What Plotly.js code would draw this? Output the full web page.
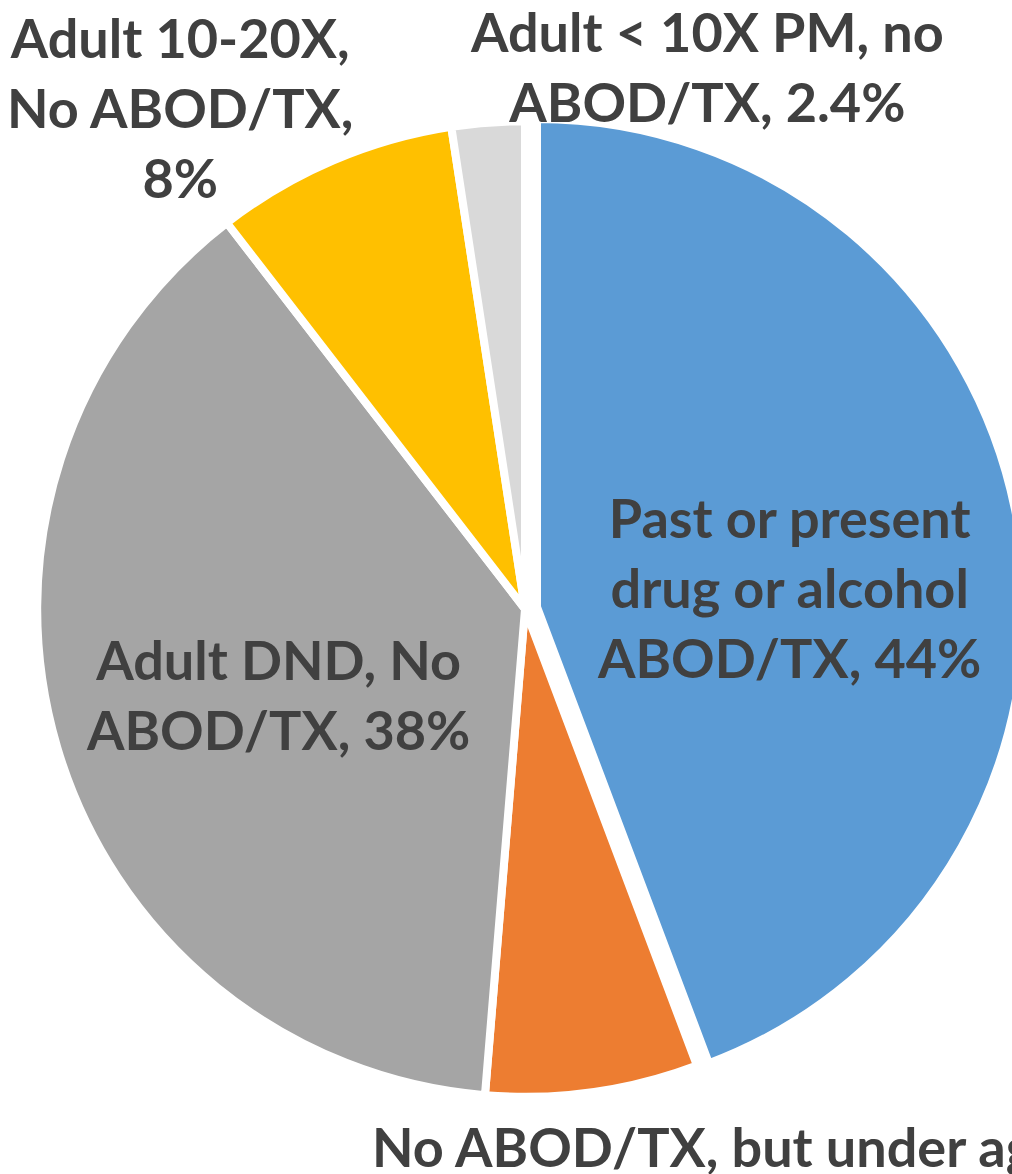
<!DOCTYPE html>
<html>
<head>
<meta charset="utf-8">
<script src="https://cdn.plot.ly/plotly-3.0.1.min.js"></script>
<style>
  html, body { margin: 0; padding: 0; overflow: hidden; background: #fff; }
  #chart { width: 1060px; height: 1174px; }
</style>
</head>
<body>
<div id="chart"></div>
<script>
// Share of cases by ABOD/TX status, clockwise from 12 o'clock
const categories = [
  'Past or present drug or alcohol ABOD/TX',
  'No ABOD/TX, but under age',
  'Adult DND, No ABOD/TX',
  'Adult 10-20X, No ABOD/TX',
  'Adult < 10X PM, no ABOD/TX'
];
const shares = [44, 7, 38, 8, 2.4];
const sliceColors = ['#5B9BD5', '#ED7D31', '#A5A5A5', '#FFC000', '#D9D9D9'];

// Wrapped label text that precedes each percentage
const labelLines = [
  'Past or present<br>drug or alcohol<br>ABOD/TX, ',
  'No ABOD/TX, but under age, ',
  'Adult DND, No<br>ABOD/TX, ',
  'Adult 10-20X,<br>No ABOD/TX,<br>',
  'Adult &lt; 10X PM, no<br>ABOD/TX, '
];

const W = 1060, H = 1174;
const px = x => x / W;
const py = y => 1 - y / H;

// label anchor points (pixels) and alignment
const labelPos = [
  {x: 789, y: 588, xa: 'center'},
  {x: 370, y: 1146, xa: 'left'},
  {x: 278, y: 694, xa: 'center'},
  {x: 180, y: 107, xa: 'center'},
  {x: 707, y: 66, xa: 'center'}
];

const labelFont = {family: 'Lato, "Open Sans", sans-serif', size: 54, color: '#404040', weight: 700};

const annotations = shares.map((v, i) => ({
  text: '<b>' + labelLines[i] + v + '%</b>',
  xref: 'paper', yref: 'paper',
  x: px(labelPos[i].x), y: py(labelPos[i].y),
  xanchor: labelPos[i].xa, yanchor: 'middle',
  align: 'center',
  showarrow: false,
  font: labelFont
}));

const cx = 525, cy = 609, half = 500;

const trace = {
  type: 'pie',
  labels: categories,
  values: shares,
  sort: false,
  direction: 'clockwise',
  rotation: 0,
  pull: [0.025, 0, 0, 0, 0],
  marker: {colors: sliceColors, line: {color: '#ffffff', width: 8}},
  textinfo: 'none',
  hoverinfo: 'skip',
  showlegend: false,
  domain: {
    x: [px(cx - half), px(cx + half)],
    y: [py(cy + half), py(cy - half)]
  }
};

const layout = {
  width: W,
  height: H,
  margin: {l: 0, r: 0, t: 0, b: 0},
  paper_bgcolor: '#ffffff',
  showlegend: false,
  annotations: annotations
};

Plotly.newPlot('chart', [trace], layout, {displayModeBar: false, staticPlot: true});
</script>
</body>
</html>
